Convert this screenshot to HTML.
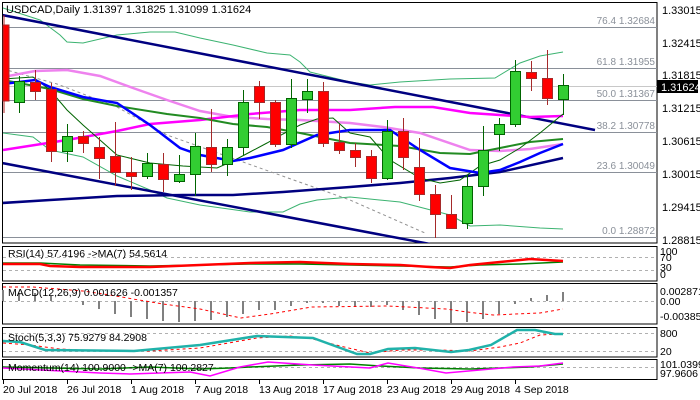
<!DOCTYPE html>
<html><head><meta charset="utf-8"><style>
body{margin:0;background:#fff}
svg{display:block;font-family:"Liberation Sans",sans-serif}
</style></head><body>
<svg width="700" height="400" viewBox="0 0 700 400" xmlns="http://www.w3.org/2000/svg">
<rect width="700" height="400" fill="#fff"/>
<!-- panel borders -->
<g fill="none" stroke="#000" stroke-width="1">
<rect x="2.5" y="2.5" width="654.5" height="240.5"/>
<rect x="2.5" y="246.5" width="654.5" height="34.5"/>
<rect x="2.5" y="283.5" width="654.5" height="40.5"/>
<rect x="2.5" y="327.5" width="654.5" height="29.5"/>
<rect x="2.5" y="359.5" width="654.5" height="20"/>
</g>
<defs><clipPath id="m"><rect x="3" y="3" width="654" height="240"/></clipPath></defs>
<!-- fib lines -->
<g stroke="#8a9099" stroke-width="1">
<line x1="3" y1="27.5" x2="657" y2="27.5"/><line x1="3" y1="68.5" x2="657" y2="68.5"/>
<line x1="3" y1="100.5" x2="657" y2="100.5"/><line x1="3" y1="132.5" x2="657" y2="132.5"/>
<line x1="3" y1="172.5" x2="657" y2="172.5"/><line x1="3" y1="237.5" x2="657" y2="237.5"/>
</g>
<line x1="3" y1="86.5" x2="657" y2="86.5" stroke="#c8c8c8"/>
<g font-size="10" fill="#8a9099" text-anchor="end">
<text x="655" y="24">76.4 1.32684</text><text x="655" y="65">61.8 1.31955</text>
<text x="655" y="97">50.0 1.31367</text><text x="655" y="129">38.2 1.30778</text>
<text x="655" y="169">23.6 1.30049</text><text x="655" y="234">0.0 1.28872</text>
</g>
<g clip-path="url(#m)" fill="none">
<!-- bollinger -->
<g stroke="#3cb371" stroke-width="1">
<polyline points="3,8 40,20 60,35 67,42 83,43 117,35 150,32 175,32 200,38 233,45 267,53 290,55 300,62 310,72 330,77 350,82 370,85 400,82 450,79 495,78 520,63 540,56 563,52"/>
<polyline points="3,133 33,137 50,150 83,157 117,176 150,190 167,198 200,205 250,212 283,212 300,204 317,200 350,197 400,202 450,215 470,226 500,225 540,228 563,229"/>
</g>
<polyline points="3,69 57,84 117,107 167,135 350,200 425,233" stroke="#909090" stroke-dasharray="3,3"/>
<!-- trend lines -->
<g stroke="#000080" stroke-width="2.5">
<line x1="2" y1="15" x2="595" y2="130"/>
<line x1="2" y1="163" x2="430" y2="244"/>
<polyline points="2,203 50,200 117,196 183,195 233,195 283,192 350,187 400,183 450,178 500,172 563,158"/>
</g>
<polyline stroke="#ee82ee" stroke-width="2.5" points="3,77 35,71 67,70 100,76 133,88 167,100 200,111 233,117 267,119 300,120 350,123 383,127 420,133 470,150 500,151 530,149 563,144"/>
<polyline stroke="#ff00ff" stroke-width="2.5" points="3,150 67,140 117,131 150,124 200,120 250,114 300,110 350,110 395,107 433,107 470,113 500,115 530,117 563,116"/>
<polyline stroke="#228b22" stroke-width="2" points="3,80 50,89 83,99 117,106 167,114 200,118 233,124 267,127 300,133 350,143 400,146 440,153 470,154 500,148 530,142 563,139"/>
<polyline stroke="#006400" stroke-width="1" points="3,79 33,77 50,90 67,110 83,125 100,140 117,155 150,163 183,166 217,168 233,161 250,152 267,143 283,134 300,125 317,119 333,118 350,133 370,137 390,160 420,178 440,183 460,180 480,166 500,160 520,148 540,133 563,114"/>
<polyline stroke="#0000ff" stroke-width="2.5" points="3,84 35,80 50,87 83,97 117,103 150,125 180,148 200,155 233,161 250,158 283,150 317,135 350,130 390,130 420,150 450,168 480,173 500,170 520,162 540,153 563,144"/>
<!-- candles -->
<g stroke-width="1">
<g stroke="#b22222"><line x1="4" y1="15" x2="4" y2="113"/></g>
</g>
</g>
<g id="c" stroke-width="1"></g>
<!-- right axis -->
<g font-size="11" fill="#000">
<text x="662" y="14">1.33015</text><text x="662" y="47">1.32415</text><text x="662" y="79">1.31815</text>
<text x="662" y="112">1.31215</text><text x="662" y="145">1.30615</text><text x="662" y="178">1.30015</text>
<text x="662" y="211">1.29415</text><text x="662" y="244">1.28815</text>
</g>
<rect x="657" y="80" width="41" height="13" fill="#000"/>
<text x="661" y="91" font-size="11" fill="#fff">1.31624</text>
<text x="6" y="13" font-size="11" fill="#000">USDCAD,Daily  1.31397 1.31825 1.31099 1.31624</text>
<!-- RSI -->
<g stroke="#b0b0b0" stroke-dasharray="3,3"><line x1="3" y1="257.5" x2="657" y2="257.5"/><line x1="3" y1="270.5" x2="657" y2="270.5"/>
<line x1="3" y1="301.5" x2="657" y2="301.5"/><line x1="3" y1="333.5" x2="657" y2="333.5"/><line x1="3" y1="351.5" x2="657" y2="351.5"/><line x1="3" y1="367.5" x2="657" y2="367.5"/></g>
<polyline fill="none" stroke="#008000" stroke-width="1.5" points="3,263 40,263 80,265 150,266 200,265 250,264 300,264 350,265 400,266 450,267 480,265 520,264 563,262"/>
<polyline fill="none" stroke="#ff0000" stroke-width="2.5" points="3,264 40,264 50,266 80,267 150,267 200,265 250,263 300,262 350,264 400,265 430,267 450,268 470,265 500,262 530,259 563,261"/>
<text x="8" y="257" font-size="10.5">RSI(14) 57.4196  -&gt;MA(7) 54.5614</text>
<g font-size="10.5"><text x="660" y="255">100</text><text x="660" y="261">70</text><text x="660" y="271">30</text><text x="660" y="278">0</text></g>
<!-- MACD -->
<g stroke="#808080" stroke-width="2">
<line x1="3" y1="290" x2="3" y2="301"/><line x1="19" y1="293" x2="19" y2="301"/><line x1="35" y1="293" x2="35" y2="301"/><line x1="51" y1="296" x2="51" y2="301"/>
<line x1="83" y1="301" x2="83" y2="305"/><line x1="99" y1="301" x2="99" y2="309"/><line x1="115" y1="301" x2="115" y2="314"/><line x1="131" y1="301" x2="131" y2="317"/>
<line x1="147" y1="301" x2="147" y2="319"/><line x1="163" y1="301" x2="163" y2="321"/><line x1="179" y1="301" x2="179" y2="322"/><line x1="195" y1="301" x2="195" y2="321"/>
<line x1="211" y1="301" x2="211" y2="320"/><line x1="227" y1="301" x2="227" y2="317"/><line x1="243" y1="301" x2="243" y2="314"/><line x1="259" y1="301" x2="259" y2="310"/>
<line x1="275" y1="301" x2="275" y2="310"/><line x1="291" y1="301" x2="291" y2="306"/><line x1="307" y1="301" x2="307" y2="303"/><line x1="323" y1="301" x2="323" y2="303"/>
<line x1="339" y1="301" x2="339" y2="306"/><line x1="355" y1="301" x2="355" y2="307"/><line x1="371" y1="301" x2="371" y2="307"/><line x1="387" y1="301" x2="387" y2="305"/>
<line x1="403" y1="301" x2="403" y2="310"/><line x1="419" y1="301" x2="419" y2="315"/><line x1="435" y1="301" x2="435" y2="319"/><line x1="451" y1="301" x2="451" y2="323"/>
<line x1="467" y1="301" x2="467" y2="322"/><line x1="483" y1="301" x2="483" y2="319"/><line x1="499" y1="301" x2="499" y2="314"/><line x1="515" y1="301" x2="515" y2="304"/>
<line x1="531" y1="298" x2="531" y2="301"/><line x1="547" y1="295" x2="547" y2="301"/><line x1="563" y1="292" x2="563" y2="301"/>
</g>
<polyline fill="none" stroke="#ff0000" stroke-dasharray="3,3" points="3,287 33,287 83,291 110,295 133,299 163,304 200,309 241,318 270,314 312,307 388,306 446,309 467,312 493,315 540,313 563,309"/>
<text x="8" y="296" font-size="10.5">MACD(12,26,9) 0.001626 -0.001357</text>
<g font-size="10.5"><text x="660" y="295">0.002871</text><text x="660" y="305">0.00</text><text x="660" y="320">-0.003855</text></g>
<!-- Stoch -->
<polyline fill="none" stroke="#ff0000" stroke-dasharray="3,3" points="3,343 30,345 60,349 100,351 150,351 200,348 257,338 290,336 313,339 340,346 370,353 400,350 440,350 470,351 500,347 520,343 540,335 560,334 563,334"/>
<polyline fill="none" stroke="#20b2aa" stroke-width="2.5" points="3,341 20,342 45,350 134,351 200,345 257,336 313,338 357,354 370,354 388,349 415,348 451,352 469,350 491,345 517,330 535,330 555,334 563,334"/>
<text x="8" y="341" font-size="10.5">Stoch(5,3,3) 75.9279 84.2908</text>
<g font-size="10.5"><text x="660" y="337">800</text><text x="660" y="355">20</text></g>
<!-- Momentum -->
<polyline fill="none" stroke="#008000" stroke-width="1.5" points="3,367 100,369 150,367 200,369 230,368 250,367 300,365 350,364 380,366 420,368 470,369 500,368 530,367 563,364"/>
<polyline fill="none" stroke="#ff00ff" stroke-width="1.5" points="3,368 100,373 130,374 160,373 190,372 210,376 220,373 240,367 268,362 313,365 370,368 388,363 424,369 446,373 491,369 513,367 540,366 563,363"/>
<text x="8" y="371" font-size="10.5">Momentum(14) 100.9000  -&gt;MA(7) 100.2827</text>
<g font-size="10.5"><text x="660" y="368">101.0399</text><text x="660" y="377">97.9606</text></g>
<!-- dates -->
<g stroke="#000"><line x1="3.5" y1="380" x2="3.5" y2="384"/><line x1="67.5" y1="380" x2="67.5" y2="384"/><line x1="131.5" y1="380" x2="131.5" y2="384"/><line x1="195.5" y1="380" x2="195.5" y2="384"/><line x1="259.5" y1="380" x2="259.5" y2="384"/><line x1="323.5" y1="380" x2="323.5" y2="384"/><line x1="387.5" y1="380" x2="387.5" y2="384"/><line x1="451.5" y1="380" x2="451.5" y2="384"/><line x1="515.5" y1="380" x2="515.5" y2="384"/></g>
<g font-size="10.5"><text x="3" y="393">20 Jul 2018</text><text x="67" y="393">26 Jul 2018</text><text x="131" y="393">1 Aug 2018</text><text x="195" y="393">7 Aug 2018</text><text x="259" y="393">13 Aug 2018</text><text x="323" y="393">17 Aug 2018</text><text x="387" y="393">23 Aug 2018</text><text x="451" y="393">29 Aug 2018</text><text x="515" y="393">4 Sep 2018</text></g>
<!-- candles: red -->
<g stroke="#a52a2a">
<line x1="35.5" y1="70" x2="35.5" y2="100"/><line x1="51.5" y1="83" x2="51.5" y2="162"/><line x1="83.5" y1="131" x2="83.5" y2="153"/><line x1="99.5" y1="137" x2="99.5" y2="179"/><line x1="115.5" y1="122" x2="115.5" y2="186"/><line x1="131.5" y1="157" x2="131.5" y2="190"/><line x1="163.5" y1="153" x2="163.5" y2="192"/><line x1="211.5" y1="109" x2="211.5" y2="172"/><line x1="259.5" y1="81" x2="259.5" y2="119"/><line x1="275.5" y1="100" x2="275.5" y2="147"/><line x1="323.5" y1="82" x2="323.5" y2="147"/><line x1="339.5" y1="124" x2="339.5" y2="154"/><line x1="355.5" y1="143" x2="355.5" y2="167"/><line x1="371.5" y1="150" x2="371.5" y2="183"/><line x1="403.5" y1="118" x2="403.5" y2="170"/><line x1="419.5" y1="138" x2="419.5" y2="201"/><line x1="435.5" y1="185" x2="435.5" y2="238"/><line x1="451.5" y1="195" x2="451.5" y2="229"/><line x1="531.5" y1="61" x2="531.5" y2="91"/><line x1="547.5" y1="50" x2="547.5" y2="105"/>
</g>
<g fill="#ff0000" stroke="#a52a2a">
<rect x="3" y="25" width="6" height="76"/><rect x="30.5" y="82.5" width="10" height="9"/><rect x="46.5" y="89.5" width="10" height="62"/><rect x="78.5" y="136.5" width="10" height="7"/><rect x="94.5" y="147.5" width="10" height="11"/><rect x="110.5" y="156.5" width="10" height="16"/><rect x="126.5" y="172.5" width="10" height="4"/><rect x="158.5" y="164.5" width="10" height="15"/><rect x="206.5" y="147.5" width="10" height="17"/><rect x="254.5" y="86.5" width="10" height="16"/><rect x="270.5" y="102.5" width="10" height="42"/><rect x="318.5" y="91.5" width="10" height="52"/><rect x="334.5" y="142.5" width="10" height="8"/><rect x="350.5" y="150.5" width="10" height="7"/><rect x="366.5" y="156.5" width="10" height="22"/><rect x="398.5" y="131.5" width="10" height="26"/><rect x="414.5" y="167.5" width="10" height="27"/><rect x="430.5" y="194.5" width="10" height="20"/><rect x="446.5" y="214.5" width="10" height="14"/><rect x="526.5" y="72.5" width="10" height="6"/><rect x="542.5" y="78.5" width="10" height="20"/>
</g>
<!-- green -->
<g stroke="#006400">
<line x1="19.5" y1="76" x2="19.5" y2="113"/><line x1="67.5" y1="124" x2="67.5" y2="162"/><line x1="147.5" y1="153" x2="147.5" y2="179"/><line x1="179.5" y1="155" x2="179.5" y2="183"/><line x1="195.5" y1="133" x2="195.5" y2="196"/><line x1="227.5" y1="139" x2="227.5" y2="176"/><line x1="243.5" y1="90" x2="243.5" y2="155"/><line x1="291.5" y1="79" x2="291.5" y2="148"/><line x1="307.5" y1="79" x2="307.5" y2="113"/><line x1="387.5" y1="120" x2="387.5" y2="180"/><line x1="467.5" y1="175" x2="467.5" y2="229"/><line x1="483.5" y1="126" x2="483.5" y2="196"/><line x1="499.5" y1="118" x2="499.5" y2="151"/><line x1="515.5" y1="60" x2="515.5" y2="127"/><line x1="563.5" y1="74" x2="563.5" y2="115"/>
</g>
<g fill="#32cd32" stroke="#006400">
<rect x="14.5" y="81.5" width="10" height="21"/><rect x="62.5" y="136.5" width="10" height="15"/><rect x="142.5" y="163.5" width="10" height="13"/><rect x="174.5" y="174.5" width="10" height="7"/><rect x="190.5" y="146.5" width="10" height="28"/><rect x="222.5" y="147.5" width="10" height="17"/><rect x="238.5" y="102.5" width="10" height="45"/><rect x="286.5" y="98.5" width="10" height="46"/><rect x="302.5" y="91.5" width="10" height="8"/><rect x="382.5" y="131.5" width="10" height="47"/><rect x="462.5" y="186.5" width="10" height="37"/><rect x="478.5" y="150.5" width="10" height="36"/><rect x="494.5" y="124.5" width="10" height="10"/><rect x="510.5" y="71.5" width="10" height="53"/><rect x="558.5" y="85.5" width="10" height="14"/>
</g>
</svg>
</body></html>
